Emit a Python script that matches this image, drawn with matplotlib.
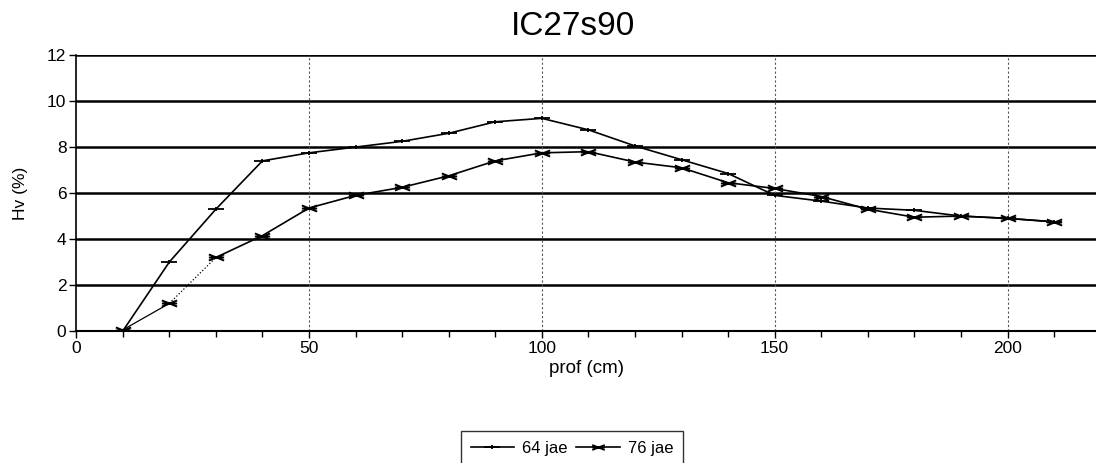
import numpy as np
import matplotlib
matplotlib.use("Agg")
import matplotlib.pyplot as plt
from matplotlib.path import Path

plt.rcParams['font.family'] = ['Liberation Sans', 'DejaVu Sans']

# depth (cm)
prof = [10, 20, 30, 40, 50, 60, 70, 80, 90, 100, 110, 120, 130, 140,
        150, 160, 170, 180, 190, 200, 210]
hv_64 = [0.0, 3.0, 5.3, 7.4, 7.75, 8.0, 8.25, 8.6, 9.1, 9.25, 8.75, 8.05, 7.45, 6.85,
         5.9, 5.65, 5.35, 5.25, 5.0, 4.9, 4.75]
hv_76 = [0.05, 1.2, 3.2, 4.15, 5.35, 5.9, 6.25, 6.75, 7.4, 7.75, 7.8, 7.35, 7.1, 6.45,
         6.2, 5.85, 5.3, 4.95, 5.0, 4.9, 4.75]
labels = ["64 jae", "76 jae"]

# bowtie marker like the old plotting software
bowtie = Path([(-1, -0.4), (1, 0.4), (-1, 0.4), (1, -0.4), (-1, 0), (1, 0)],
              [Path.MOVETO, Path.LINETO, Path.MOVETO, Path.LINETO, Path.MOVETO, Path.LINETO])
tick = Path([(-1, 0), (1, 0), (0, -0.3), (0, 0.3)],
            [Path.MOVETO, Path.LINETO, Path.MOVETO, Path.LINETO])

fig = plt.figure(figsize=(10.96, 4.63), dpi=100)
ax = fig.add_axes([0.0695, 0.285, 0.9305, 0.596])

ax.plot(prof, hv_64, color='black', lw=1.2, marker=tick, markersize=11,
        markeredgewidth=1.3, label=labels[0])
# the 20-30 cm piece of the second series is drawn dotted
x76 = np.array(prof)
y76 = np.array(hv_76)
ax.plot(x76[:2], y76[:2], color='black', lw=0.9)
ax.plot(x76[1:3], y76[1:3], color='black', lw=0.9, ls=':')
ax.plot(x76[2:], y76[2:], color='black', lw=1.2)
ax.plot(prof, hv_76, color='black', lw=1.2, ls='none', marker=bowtie, markersize=11,
        markeredgewidth=1.4)
ax.plot([], [], color='black', lw=1.2, marker=bowtie, markersize=9,
        markeredgewidth=1.3, label=labels[1])

ax.set_xlim(0, 219)
ax.set_ylim(0, 12)
ax.set_yticks(range(0, 13, 2))
ax.set_xticks([0, 50, 100, 150, 200])
ax.set_xticks(range(0, 220, 10), minor=True)
ax.tick_params(axis='both', direction='out', length=5, width=1, labelsize=12.5, pad=2)
ax.tick_params(axis='x', which='minor', direction='out', length=4, width=1)

for s in ['top', 'right']:
    ax.spines[s].set_visible(False)
ax.spines['left'].set_linewidth(1.2)
ax.spines['bottom'].set_linewidth(1.5)

for v in range(2, 13, 2):
    ax.axhline(v, color='black', lw=1.8, zorder=0)
for v in [50, 100, 150, 200]:
    ax.axvline(v, color='#555555', lw=0.8, ls=(0, (2, 2)), zorder=0)

ax.set_xlabel("prof (cm)", fontsize=13.5, labelpad=3)
ax.set_ylabel("Hv (%)", fontsize=12.5, labelpad=14)
fig.text(0.523, 0.942, "IC27s90", ha='center', va='center', fontsize=24)

leg = fig.legend(loc='upper center', bbox_to_anchor=(0.522, 0.069), ncol=2,
                 fontsize=12, frameon=True, fancybox=False, edgecolor='black',
                 handlelength=2.6, columnspacing=0.5, handletextpad=0.5,
                 borderpad=0.6, borderaxespad=0)
leg.get_frame().set_linewidth(1.0)

fig.savefig("out.png", dpi=100)
